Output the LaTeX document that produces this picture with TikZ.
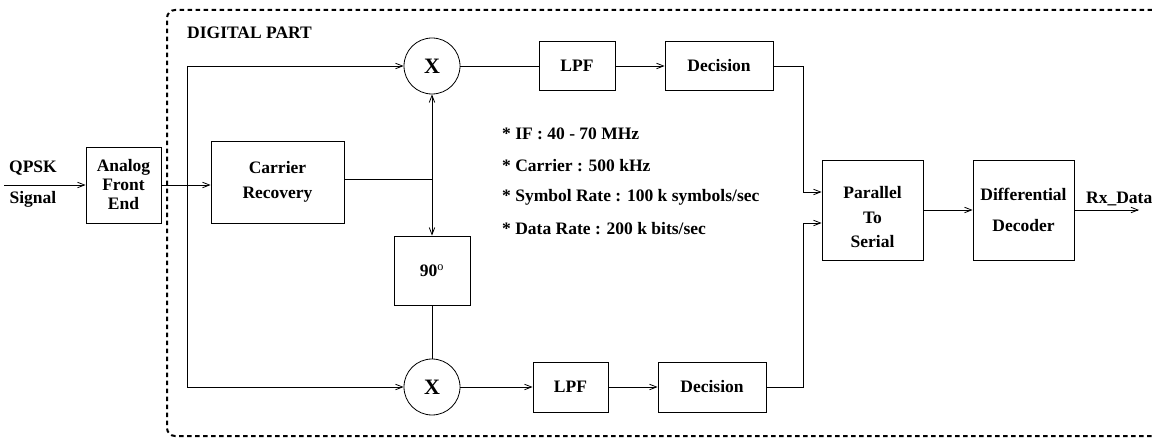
\documentclass[tikz,border=0pt]{standalone}
\usepackage{fontspec}
\setmainfont{Liberation Serif}
\usetikzlibrary{arrows.meta, calc}
\tikzset{
  flecha/.style    = {-{Straight Barb[length=7pt,width=5.5pt]}, line width=0.8pt},
  linea/.style     = {line width=0.8pt},
  bloque/.style    = {draw, line width=0.8pt, align=center, inner sep=2pt,
                      font=\fontsize{17.5}{19}\selectfont\bfseries},
  mezclador/.style = {draw, circle, line width=0.8pt, minimum size=56pt, inner sep=0pt,
                      font=\fontsize{22}{24}\selectfont\bfseries},
  texto/.style     = {font=\fontsize{17.5}{19}\selectfont\bfseries, inner sep=0pt},
  marco/.style     = {dash pattern=on 4.5pt off 3.5pt, line width=2pt, rounded corners=8pt}
}

\begin{document}
\begin{tikzpicture}[x=1pt, y=-1pt]
  \useasboundingbox (0,0) rectangle (1152,438);
  \clip (0,0) rectangle (1152,438);

  % digital part frame
  \draw[marco] (1200,10) -- (167,10) -- (167,436) -- (1200,436);
  \node[texto, anchor=west] (dig) at (187,33) {DIGITAL PART};

  \node[texto] (qpsk) at (33,168) {QPSK};
  \node[texto] (sig) at (33,199) {Signal};
  \coordinate (ent) at (4,185);

  \node[bloque, minimum width=75, minimum height=76] (afe) at (123.5,185) {Analog\\Front\\End};
  \node[bloque, minimum width=133, minimum height=82] (car) at (277.5,182) {Carrier\\[6pt]Recovery};
  \node[mezclador] (mi) at (432,66) {X};
  \node[mezclador] (mq) at (432,387) {X};
  \node[bloque, minimum width=76, minimum height=69] (fase) at (432,270.5) {90\textsuperscript{\mdseries o}};

  \node[bloque, minimum width=76, minimum height=49] (lpfi) at (577,66) {LPF};
  \node[bloque, minimum width=108, minimum height=49] (deci) at (719,66) {Decision};
  \node[bloque, minimum width=75, minimum height=50] (lpfq) at (570.5,387) {LPF};
  \node[bloque, minimum width=108, minimum height=50] (decq) at (712,387) {Decision};

  \node[bloque, minimum width=101, minimum height=100] (ps) at (872.5,210) {};
  \node[texto, align=center] (pst) at (872.5,217) {Parallel\\[6pt]To\\[5pt]Serial};
  \node[bloque, minimum width=101, minimum height=100] (dd) at (1023.5,210) {Differential\\[12pt]Decoder};
  \node[texto, anchor=west] (rx) at (1086,199) {Rx\_Data};
  \coordinate (sal) at (1139,210);

  \foreach \txt [count=\i from 0] in {{* IF : 40 - 70 MHz}, {* Carrier : 500 kHz},
      {* Symbol Rate : 100 k symbols/sec}, {* Data Rate : 200 k bits/sec}}{
    \node[texto, anchor=west] (dato\i) at (502,{134+31.6*\i}) {\txt};
  }

  % connections
  \coordinate (ji) at (187,66);
  \coordinate (jq) at (187,387);
  \coordinate (cr) at (432,179);
  \coordinate (ti) at (803,192);
  \coordinate (tq) at (803,223);

  \draw[flecha] (ent) -- (afe.west);
  \draw[flecha] (afe.east) -- (car.west |- afe.east);
  \draw[linea] (ji) -- (jq);
  \draw[flecha] (ji) -- (mi.west);
  \draw[flecha] (jq) -- (mq.west);
  \draw[linea] (car.east |- cr) -- (cr);
  \draw[flecha] (cr) -- (mi.south);
  \draw[flecha] (cr) -- (fase.north);
  \draw[linea] (fase.south) -- (mq.north);
  \draw[linea] (mi.east) -- (lpfi.west);
  \draw[flecha] (lpfi) -- (deci);
  \draw[flecha] (mq.east) -- (lpfq.west);
  \draw[flecha] (lpfq) -- (decq);
  \draw[flecha] (deci.east) -| (ti) -- (ps.west |- ti);
  \draw[flecha] (decq.east) -| (tq) -- (ps.west |- tq);
  \draw[flecha] (ps) -- (dd);
  \draw[flecha] (dd) -- (sal);
\end{tikzpicture}
\end{document}
